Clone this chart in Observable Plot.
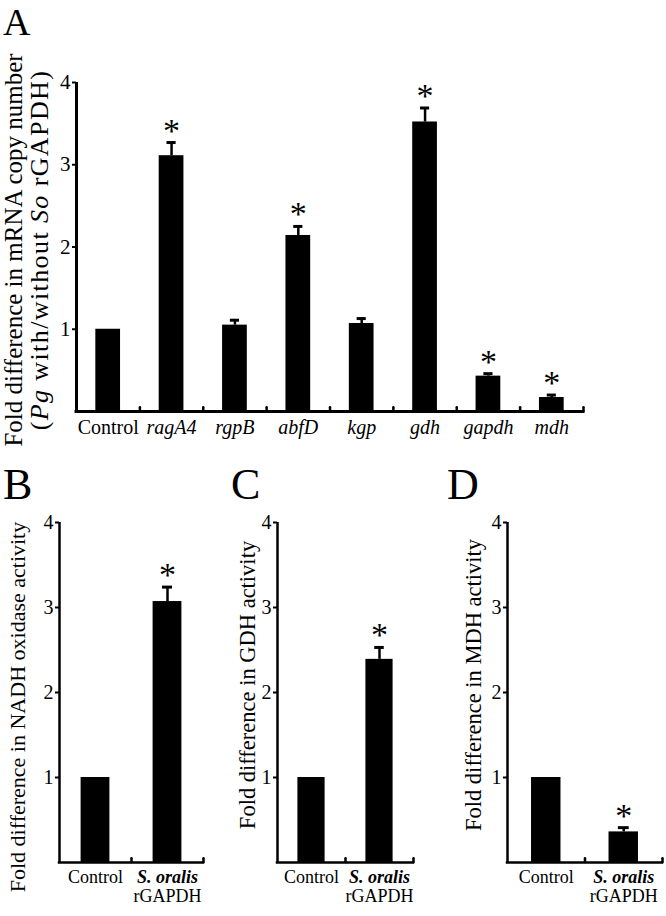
<!DOCTYPE html>
<html><head><meta charset="utf-8">
<script src="https://cdn.jsdelivr.net/npm/d3@7"></script>
<script src="https://cdn.jsdelivr.net/npm/@observablehq/plot@0.6"></script>
<style>
body{margin:0;background:#fff;}
#root{position:relative;width:666px;height:916px;font-family:"Liberation Serif","Times New Roman",serif;color:#000;overflow:hidden;background:#fff}
.panel{position:absolute}
.panel text{font-family:"Liberation Serif","Times New Roman",serif}
.letter{position:absolute;line-height:1;font-family:"Liberation Serif",serif}
.ylab{position:absolute;white-space:nowrap;transform:translate(-50%,-50%) rotate(-90deg);text-align:center;font-family:"Liberation Serif",serif}
</style></head><body><div id="root"></div>
<script>
// ---- data ----
const genes = ["Control","ragA4","rgpB","abfD","kgp","gdh","gapdh","mdh"];
const geneFold = [1.0, 3.11, 1.05, 2.14, 1.07, 3.52, 0.43, 0.17];
const geneErr  = [0,   0.16, 0.06, 0.11, 0.06, 0.17, 0.03, 0.03];
const geneSig  = [false, true, false, true, false, true, true, true];

const groups = ["Control", "S. oralis rGAPDH"];
const groupSpecies = "S. oralis";
const groupProtein = "rGAPDH";
const nadhFold = [1.0, 3.07];
const nadhErr  = [0, 0.17];
const nadhSig  = [false, true];
const gdhFold  = [1.0, 2.39];
const gdhErr   = [0, 0.14];
const gdhSig   = [false, true];
const mdhFold  = [1.0, 0.36];
const mdhErr   = [0, 0.05];
const mdhSig   = [false, true];

const yTicks = [1, 2, 3, 4];
const yMax = 4;

const root = document.getElementById("root");
const FONT = '"Liberation Serif","Times New Roman",serif';

function panel(cfg) {
  const n = cfg.vals.length;
  const data = cfg.vals.map((v, i) => ({i, v, e: cfg.errs[i], s: cfg.sig[i]}));
  const errData = data.filter(d => d.e > 0);
  const sigData = data.filter(d => d.s);
  const bounds = d3.range(n).map(i => i + 0.5);
  const marks = [
    Plot.rectY(data, {x1: d => d.i - cfg.hw, x2: d => d.i + cfg.hw, y1: 0, y2: "v", fill: "#000"}),
    Plot.ruleX(errData, {x: "i", y1: "v", y2: d => d.v + d.e, stroke: "#000", strokeWidth: 2.5}),
    Plot.ruleY(errData, {y: d => d.v + d.e, x1: d => d.i - cfg.cw, x2: d => d.i + cfg.cw, stroke: "#000", strokeWidth: 3}),
    Plot.text(sigData, {x: "i", y: d => d.v + d.e, text: () => "*", fontSize: cfg.starSize, fontFamily: FONT, lineAnchor: "bottom", dy: cfg.starDy, fill: "#000"}),
    Plot.ruleX([-0.5], {y1: 0, y2: yMax, stroke: "#000", strokeWidth: cfg.axisW}),
    Plot.ruleY([0], {x1: -0.5, x2: n - 0.5, stroke: "#000", strokeWidth: cfg.axisW, strokeLinecap: "square"}),
    Plot.ruleX(bounds, {x: d => d, y1: 0, y2: 0.045, stroke: "#000", strokeWidth: 2.5, strokeLinecap: "round"}),
    Plot.axisY(yTicks, {tickSize: 4, tickPadding: 2, fontSize: cfg.tickFont, fontFamily: FONT, strokeWidth: 2, label: null, tickFormat: d => String(d), fill: "#000", stroke: "#000"}),
    ...cfg.labels
  ];
  const chart = Plot.plot({
    width: cfg.width, height: cfg.height,
    marginLeft: cfg.ml, marginRight: cfg.mr, marginTop: cfg.mt, marginBottom: cfg.mb,
    x: {domain: [-0.5, n - 0.5], axis: null},
    y: {domain: [0, yMax], axis: null},
    style: `background: transparent; font-family: ${FONT}; color: #000; overflow: visible;`,
    marks
  });
  chart.classList.add("panel");
  chart.style.left = cfg.left + "px";
  chart.style.top = cfg.top + "px";
  root.appendChild(chart);
}

// Panel A
panel({
  vals: geneFold, errs: geneErr, sig: geneSig,
  left: 0, top: 0, width: 666, height: 460, ml: 76, mr: 83, mt: 82, mb: 49,
  hw: 0.195, cw: 0.072, axisW: 3, tickFont: 21, starSize: 34, starDy: -1,
  labels: [
    Plot.text([0], {x: d => d, y: 0, text: d => genes[d], fontSize: 20, fontFamily: FONT, lineAnchor: "top", dy: 8, fill: "#000"}),
    Plot.text(d3.range(1, genes.length), {x: d => d, y: 0, text: d => genes[d], fontSize: 20, fontFamily: FONT, fontStyle: "italic", lineAnchor: "top", dy: 8, fill: "#000"})
  ]
});

function smallLabels() {
  return [
    Plot.text([0], {x: d => d, y: 0, text: d => groups[d], fontSize: 18, fontFamily: FONT, lineAnchor: "top", dy: 8, fill: "#000"}),
    Plot.text([1], {x: d => d, y: 0, text: () => groupSpecies, fontSize: 18, fontFamily: FONT, fontStyle: "italic", fontWeight: "bold", lineAnchor: "top", dy: 8, fill: "#000"}),
    Plot.text([1], {x: d => d, y: 0, text: () => groupProtein, fontSize: 18, fontFamily: FONT, lineAnchor: "top", dy: 27, fill: "#000"})
  ];
}

// Panel B
panel({
  vals: nadhFold, errs: nadhErr, sig: nadhSig,
  left: 0, top: 500, width: 222, height: 416, ml: 59, mr: 19, mt: 22, mb: 54,
  hw: 0.2, cw: 0.07, axisW: 2.5, tickFont: 20, starSize: 34, starDy: -1,
  labels: smallLabels()
});
// Panel C
panel({
  vals: gdhFold, errs: gdhErr, sig: gdhSig,
  left: 222, top: 500, width: 222, height: 416, ml: 55, mr: 31, mt: 22, mb: 54,
  hw: 0.2, cw: 0.07, axisW: 2.5, tickFont: 20, starSize: 34, starDy: -1,
  labels: smallLabels()
});
// Panel D
panel({
  vals: mdhFold, errs: mdhErr, sig: mdhSig,
  left: 444, top: 500, width: 222, height: 416, ml: 63, mr: 4, mt: 22, mb: 54,
  hw: 0.19, cw: 0.07, axisW: 2.5, tickFont: 20, starSize: 34, starDy: -1,
  labels: smallLabels()
});

// Letters
function addDiv(cls, html, css) {
  const el = document.createElement("div");
  el.className = cls;
  el.innerHTML = html;
  Object.assign(el.style, css);
  root.appendChild(el);
}
addDiv("letter", "A", {left: "3px", top: "3px", fontSize: "38px"});
addDiv("letter", "B", {left: "3px", top: "463px", fontSize: "44px"});
addDiv("letter", "C", {left: "231px", top: "463px", fontSize: "44px"});
addDiv("letter", "D", {left: "447px", top: "463px", fontSize: "44px"});

// Y-axis titles
addDiv("ylab", "<span style=\"font-size:25px\">Fold difference in mRNA copy number</span><br><span style=\"font-size:26px;letter-spacing:1.4px\">(<i>Pg</i> with/without <i>So</i> rGAPDH)</span>",
  {left: "28px", top: "250px", lineHeight: "23px"});
addDiv("ylab", "Fold difference in NADH oxidase activity", {left: "18px", top: "707px", fontSize: "22px", lineHeight: "22px"});
addDiv("ylab", "Fold difference in GDH activity", {left: "248px", top: "685px", fontSize: "22.5px", lineHeight: "22px"});
addDiv("ylab", "Fold difference in MDH activity", {left: "474px", top: "685px", fontSize: "22.5px", lineHeight: "22px"});
</script></body></html>
